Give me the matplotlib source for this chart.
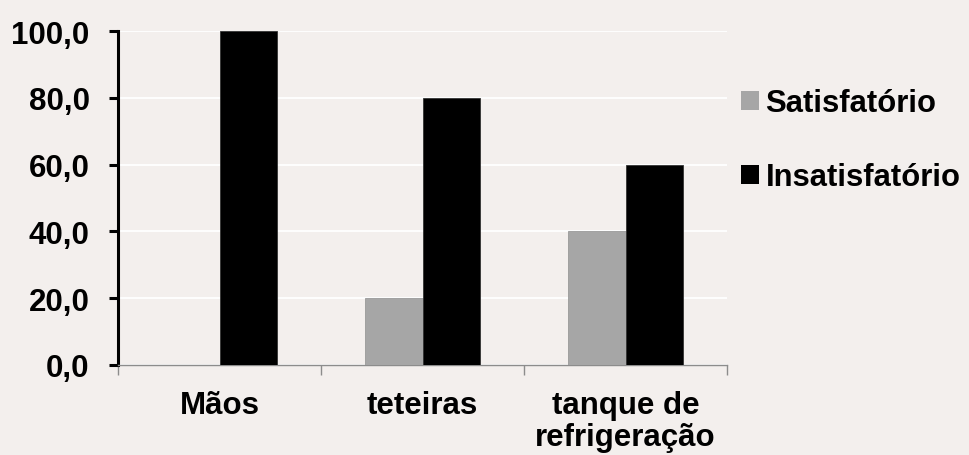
import matplotlib.pyplot as plt
import numpy as np

categories = ['Mãos', 'teteiras', 'tanque de\nrefrigeração']
satisfatorio = [0.0, 20.0, 40.0]
insatisfatorio = [100.0, 80.0, 60.0]
yticks = [0, 20, 40, 60, 80, 100]
ytick_labels = ['0,0', '20,0', '40,0', '60,0', '80,0', '100,0']

plt.rcParams['font.family'] = ['Liberation Sans', 'DejaVu Sans']
plt.rcParams['font.weight'] = 'bold'

bg = '#f3efed'
fig = plt.figure(figsize=(9.69, 4.56), dpi=100, facecolor=bg)
ax = fig.add_axes([0.1218, 0.1974, 0.6285, 0.7324])
ax.set_facecolor(bg)

x = np.arange(len(categories))
w = 0.285
ax.bar(x - w / 2, satisfatorio, w, color='#a6a6a6', edgecolor='#999999',
       linewidth=0.6, label='Satisfatório', zorder=3)
ax.bar(x + w / 2, insatisfatorio, w, color='black', edgecolor='#333333',
       linewidth=0.6, label='Insatisfatório', zorder=3)

ax.set_xlim(-0.5, len(categories) - 0.5)
ax.set_ylim(0, 100)
ax.set_yticks(yticks)
ax.set_yticklabels(ytick_labels)
ax.yaxis.grid(True, color='white', linewidth=1.3, zorder=0)

# category labels at centres, tick marks at category boundaries
ax.set_xticks(x)
ax.set_xticklabels(categories, fontsize=22.5, fontweight='bold', linespacing=1.1)
ax.tick_params(axis='x', which='major', length=0, pad=18)
ax.set_xticks(np.arange(len(categories) + 1) - 0.5, minor=True)
ax.tick_params(axis='x', which='minor', length=7, width=1, color='#8c8c8c', direction='out')

ax.tick_params(axis='y', length=6.5, width=2.2, color='black', pad=14, labelsize=22.5)
for lab in ax.get_yticklabels():
    lab.set_fontweight('bold')

for s in ['top', 'right']:
    ax.spines[s].set_visible(False)
ax.spines['left'].set_linewidth(2.2)
ax.spines['left'].set_color('black')
ax.spines['bottom'].set_linewidth(1)
ax.spines['bottom'].set_color('#8c8c8c')

leg = ax.legend(loc='upper left', bbox_to_anchor=(1.003, 0.865), frameon=False,
                fontsize=22.3, handlelength=0.58, handleheight=0.58,
                handletextpad=0.2, labelspacing=1.42, borderaxespad=0.0,
                borderpad=0.4)
for t in leg.get_texts():
    t.set_fontweight('bold')
for h in leg.legend_handles:
    h.set_edgecolor('none')

fig.savefig('out.png', dpi=100, facecolor=bg)
